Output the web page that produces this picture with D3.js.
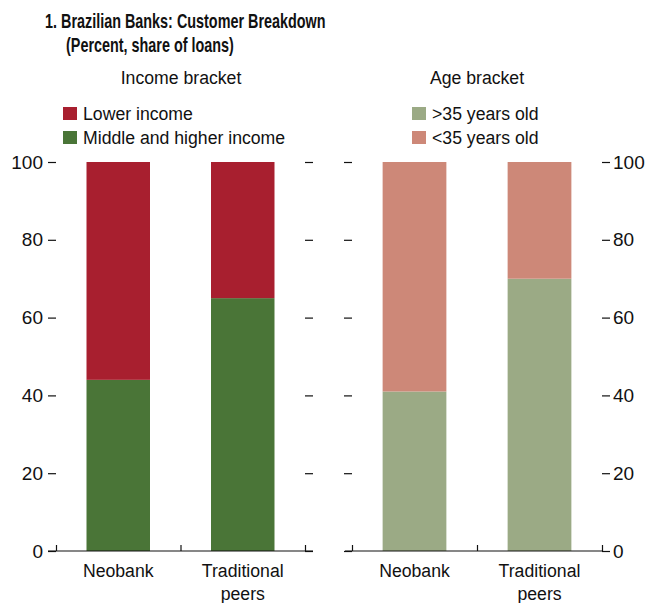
<!DOCTYPE html>
<html>
<head>
<meta charset="utf-8">
<script src="https://cdn.jsdelivr.net/npm/d3@7"></script>
<style>
  body { margin: 0; background: #fff; }
  svg { display: block; }
  text { font-family: "Liberation Sans", Arial, sans-serif; fill: #111; }
</style>
</head>
<body>
<svg id="chart" width="647" height="603"></svg>
<script>
// Customer breakdown of Brazilian banks, percent of loans
const categories = ["Neobank", "Traditional peers"];
const categoryLines = [["Neobank"], ["Traditional", "peers"]];

const incomeKeys = ["Middle and higher income", "Lower income"];
const middleHigherIncome = [44, 65];
const lowerIncome = [56, 35];
const incomeLegend = ["Lower income", "Middle and higher income"];

const ageKeys = [">35 years old", "<35 years old"];
const over35 = [41, 70];
const under35 = [59, 30];
const ageLegend = [">35 years old", "<35 years old"];

const yTicks = [0, 20, 40, 60, 80, 100];

const colors = {
  "Lower income": "#a81f2f",
  "Middle and higher income": "#4a7537",
  ">35 years old": "#9baa85",
  "<35 years old": "#cd8878"
};

const svg = d3.select("#chart");
const FONT = 19;
const NARROW = 0.93;   // condensed look for regular labels
const NARROW_BOLD = 0.72;

// Text drawn in a horizontally condensed face
function label(parent, x, y, lines, o = {}) {
  const t = parent.append("text")
    .attr("transform", `translate(${x},${y}) scale(${o.sx ?? NARROW},1)`)
    .attr("font-size", o.size ?? FONT)
    .attr("font-weight", o.weight ?? "normal")
    .attr("text-anchor", o.anchor ?? "start");
  [].concat(lines).forEach((line, j) => {
    t.append("tspan").attr("x", 0).attr("dy", j === 0 ? 0 : (o.lineGap ?? 22)).text(line);
  });
  return t;
}

// Title
label(svg, 45, 28, "1. Brazilian Banks: Customer Breakdown", { weight: "bold", sx: NARROW_BOLD, size: 20 });
label(svg, 66, 52, "(Percent, share of loans)", { weight: "bold", sx: NARROW_BOLD, size: 20 });

const y = d3.scaleLinear().domain([0, 100]).range([551, 162]);

function panel(opts) {
  const x = d3.scaleBand().domain(categories).range(opts.range).paddingInner(0.49).paddingOuter(0.245);
  const rows = categories.map((c, i) => {
    const r = { category: c };
    opts.keys.forEach((k, j) => r[k] = opts.series[j][i]);
    return r;
  });
  const stacked = d3.stack().keys(opts.keys)(rows);

  const g = svg.append("g");
  g.selectAll("g.layer").data(stacked).join("g")
    .attr("class", "layer")
    .attr("fill", d => colors[d.key])
    .selectAll("rect").data(d => d).join("rect")
    .attr("x", d => x(d.data.category))
    .attr("width", x.bandwidth())
    .attr("y", d => y(d[1]))
    .attr("height", d => y(d[0]) - y(d[1]));

  // Panel heading
  label(g, opts.headingX, 84, opts.heading, { anchor: "middle" });

  // Legend
  opts.legend.forEach((k, i) => {
    g.append("rect").attr("x", opts.legendX).attr("y", 107 + i * 24)
      .attr("width", 14).attr("height", 13).attr("fill", colors[k]);
    label(g, opts.legendX + 20, 120 + i * 24, k);
  });

  // Y axes on both sides
  const leftAxis = d3.axisLeft(y).tickValues(yTicks).tickSize(8).tickPadding(5)
    .tickFormat(opts.leftLabels ? d3.format("d") : () => "");
  const rightAxis = d3.axisRight(y).tickValues(yTicks).tickSize(8).tickPadding(3)
    .tickFormat(opts.rightLabels ? d3.format("d") : () => "");
  [[leftAxis, opts.range[0]], [rightAxis, opts.range[1]]].forEach(([ax, px]) => {
    const a = g.append("g").attr("transform", `translate(${px},0)`).call(ax);
    a.select(".domain").remove();
    a.selectAll("line").attr("stroke", "#111").attr("stroke-width", 1.2);
    a.selectAll("text").attr("font-size", FONT).attr("font-family", null).attr("fill", "#111");
  });

  // Baseline with upward ticks at category boundaries
  const edges = d3.scaleLinear().domain([0, categories.length]).range(opts.range);
  g.append("line")
    .attr("x1", opts.baseline[0]).attr("x2", opts.baseline[1])
    .attr("y1", y(0)).attr("y2", y(0))
    .attr("stroke", "#111").attr("stroke-width", 1.2);
  const bx = g.append("g").attr("transform", `translate(0,${y(0)})`)
    .call(d3.axisBottom(edges).tickValues(d3.range(categories.length + 1)).tickSize(-6).tickFormat(() => ""));
  bx.select(".domain").remove();
  bx.selectAll("line").attr("stroke", "#111").attr("stroke-width", 1.2);

  // Category labels
  categories.forEach((c, i) => {
    label(g, x(c) + x.bandwidth() / 2, 577, categoryLines[i], { anchor: "middle", lineGap: 23 });
  });
}

panel({
  range: [56, 305], keys: incomeKeys, series: [middleHigherIncome, lowerIncome],
  legend: incomeLegend,
  heading: "Income bracket", headingX: 181, legendX: 63,
  leftLabels: true, rightLabels: false, baseline: [48, 313]
});

panel({
  range: [352, 602], keys: ageKeys, series: [over35, under35],
  legend: ageLegend,
  heading: "Age bracket", headingX: 477, legendX: 412,
  leftLabels: false, rightLabels: true, baseline: [345, 603]
});
</script>
</body>
</html>
